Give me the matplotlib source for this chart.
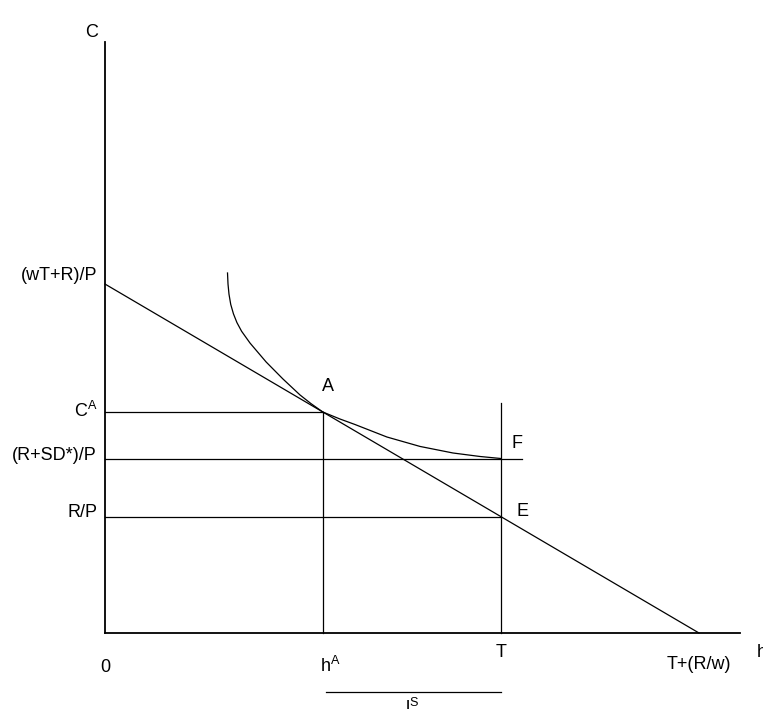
import numpy as np
import matplotlib
matplotlib.use("Agg")
import matplotlib.pyplot as plt

plt.rcParams['font.family'] = ['Liberation Sans', 'DejaVu Sans']
plt.rcParams['mathtext.fontset'] = 'custom'
plt.rcParams['mathtext.rm'] = 'Liberation Sans'
plt.rcParams['mathtext.it'] = 'Liberation Sans'

# model values (hours on x, consumption on y)
T = 16.0            # time endowment
R_W = 8.0           # R/w
WTR_P = 24.0        # (wT+R)/P, budget intercept
R_P = 8.0           # R/P
RSD_P = 12.0        # (R+SD*)/P
H_A = 8.8           # hA
C_A = 15.2          # CA

# indifference curve
curve_h = [4.95, 4.97, 5.01, 5.08, 5.19, 5.33, 5.52, 5.86, 6.51, 7.19, 7.88, 8.32, 8.8,
           9.49, 10.10, 11.39, 12.73, 14.06, 15.15, 16.0]
curve_c = [24.76, 24.0, 23.3, 22.6, 21.95, 21.35, 20.75, 19.94, 18.64, 17.47, 16.37, 15.78, 15.2,
           14.72, 14.34, 13.48, 12.83, 12.38, 12.14, 12.0]

X_END = 25.66
Y_END = 40.65

fig = plt.figure(figsize=(7.63, 7.09), dpi=100)
ax = fig.add_axes([0, 0, 1, 1])
ax.set_xlim(-4.2424, 26.586)
ax.set_ylim(-5.227, 43.535)
ax.axis('off')

k = 'black'
lw = 0.9
fs = 13

# axes
ax.plot([0, 0], [0, Y_END], color=k, lw=1.3)
ax.plot([0, X_END], [0, 0], color=k, lw=1.3)

# budget line
ax.plot([0, T + R_W], [WTR_P, 0], color=k, lw=lw)

# indifference curve
ax.plot(curve_h, curve_c, color=k, lw=lw)

# guide lines
ax.plot([0, H_A], [C_A, C_A], color=k, lw=lw)
ax.plot([H_A, H_A], [0, C_A], color=k, lw=lw)
ax.plot([0, T + 0.85], [RSD_P, RSD_P], color=k, lw=lw)
ax.plot([0, T], [R_P, R_P], color=k, lw=lw)
ax.plot([T, T], [0, RSD_P + 3.8], color=k, lw=lw)

# labour supply bracket
ax.plot([H_A + 0.13, T], [-4.06, -4.06], color=k, lw=lw)

# axis labels
ax.text(-0.53, 41.0, 'C', ha='center', va='baseline', fontsize=fs)
ax.text(26.34, -1.65, 'h', ha='left', va='baseline', fontsize=fs)

ax.text(-0.32, 24.3, '(wT+R)/P', ha='right', va='baseline', fontsize=fs)
ax.text(-0.32, 14.85, r'$\mathrm{C}^{\mathrm{A}}$', ha='right', va='baseline', fontsize=fs)
ax.text(-0.32, 11.9, '(R+SD*)/P', ha='right', va='baseline', fontsize=fs)
ax.text(-0.32, 8.0, 'R/P', ha='right', va='baseline', fontsize=fs)

ax.text(0.0, -2.7, '0', ha='center', va='baseline', fontsize=fs)
ax.text(H_A - 0.1, -2.7, r'$\mathrm{h}^{\mathrm{A}}$', ha='left', va='baseline', fontsize=fs)
ax.text(T, -1.65, 'T', ha='center', va='baseline', fontsize=fs)
ax.text(T + R_W, -2.5, 'T+(R/w)', ha='center', va='baseline', fontsize=fs)

ax.text(H_A + 0.2, 16.64, 'A', ha='center', va='baseline', fontsize=fs)
ax.text(T + 0.44, 12.72, 'F', ha='left', va='baseline', fontsize=fs)
ax.text(T + 0.61, 8.05, 'E', ha='left', va='baseline', fontsize=fs)
ax.text((H_A + T) / 2, -5.57, r'$\mathrm{l}^{\mathrm{S}}$', ha='center', va='baseline', fontsize=fs)

fig.savefig('out.png', dpi=100)
